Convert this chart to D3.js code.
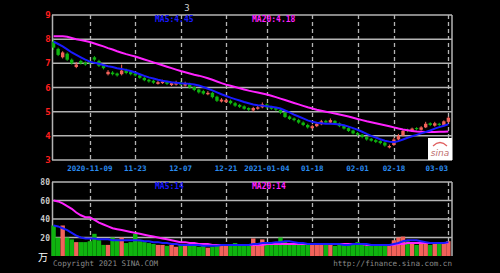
<!DOCTYPE html>
<html>
  <head>
    <meta charset="utf-8" />
    <title>K-line</title>
    <style>
      body { margin: 0; background: #000; }
      svg { display: block; }
    </style>
  </head>
  <body>
    <div id="plot"></div>
    <script src="https://d3js.org/d3.v7.min.js"></script>
    <script>
      // daily prices, 88 trading days (2020-10-28 .. 2021-03-08)
      const open = [
        7.90,7.60,7.25,7.40,7.15,6.85,7.10,7.02,
        7.05,7.25,7.10,6.92,6.55,6.62,6.58,6.55,6.72,6.65,
        6.58,6.50,6.40,6.32,6.28,6.15,6.18,6.25,6.10,6.12,
        6.22,6.08,6.15,6.02,5.92,5.85,5.72,5.78,5.62,5.42,
        5.40,5.45,5.35,5.28,5.22,5.15,5.05,5.12,5.18,
        5.30,5.20,5.15,5.08,4.95,4.80,4.72,4.65,4.55,4.45,
        4.32,4.40,4.48,4.62,4.55,4.62,4.52,4.42,4.32,4.22,
        4.12,4.05,3.95,3.88,3.82,3.78,3.72,3.52,
        3.62,3.85,4.02,4.25,4.20,4.32,4.25,4.35,4.52,4.42,4.50,4.45,4.58
      ];
      const close = [
        7.65,7.35,7.45,7.15,7.00,6.95,7.00,6.95,
        7.00,7.15,6.90,6.80,6.65,6.55,6.50,6.70,6.60,6.55,
        6.50,6.40,6.30,6.25,6.20,6.22,6.25,6.15,6.18,6.22,
        6.12,6.18,6.00,5.90,5.80,5.75,5.78,5.60,5.45,5.50,
        5.48,5.35,5.25,5.20,5.12,5.08,5.15,5.18,5.30,
        5.18,5.12,5.08,4.95,4.78,4.70,4.65,4.55,4.45,4.35,
        4.40,4.50,4.60,4.55,4.65,4.50,4.40,4.30,4.20,4.10,
        4.05,3.95,3.85,3.80,3.75,3.70,3.60,3.58,
        3.85,4.00,4.20,4.22,4.30,4.28,4.35,4.50,4.45,4.52,4.45,4.60,4.75
      ];
      const high = [
        7.98,7.65,7.50,7.45,7.20,7.05,7.15,7.08,
        7.10,7.30,7.15,6.95,6.72,6.68,6.62,6.95,6.78,6.68,
        6.62,6.55,6.45,6.36,6.32,6.28,6.32,6.28,6.22,6.28,
        6.26,6.24,6.20,6.05,5.95,5.90,5.85,5.82,5.66,5.56,
        5.55,5.50,5.40,5.32,5.26,5.18,5.20,5.25,5.38,
        5.34,5.24,5.18,5.12,4.98,4.84,4.76,4.70,4.60,4.50,
        4.46,4.56,4.66,4.66,4.72,4.65,4.55,4.46,4.36,4.26,
        4.16,4.08,3.98,3.92,3.86,3.82,3.76,3.64,
        3.92,4.08,4.26,4.30,4.34,4.36,4.40,4.58,4.56,4.58,4.54,4.64,4.80
      ];
      const low = [
        7.55,7.30,7.20,7.10,6.95,6.80,6.95,6.90,
        6.95,7.08,6.85,6.75,6.50,6.50,6.45,6.50,6.55,6.50,
        6.45,6.36,6.26,6.20,6.15,6.12,6.15,6.10,6.06,6.08,
        6.08,6.04,5.95,5.85,5.75,5.70,5.68,5.55,5.40,5.38,
        5.36,5.30,5.20,5.15,5.08,5.02,5.00,5.08,5.14,
        5.12,5.08,5.02,4.90,4.74,4.66,4.60,4.50,4.40,4.30,
        4.28,4.36,4.44,4.50,4.52,4.45,4.36,4.26,4.16,4.06,
        4.00,3.90,3.80,3.76,3.70,3.65,3.55,3.48,
        3.58,3.80,3.98,4.15,4.16,4.22,4.22,4.32,4.40,4.38,4.40,4.40,4.54
      ];
      // moving average lines
      const maBlue = [
        7.90,7.80,7.70,7.58,7.45,7.35,7.25,7.15,
        7.07,7.02,6.98,6.93,6.88,6.85,6.80,6.77,6.73,6.68,
        6.62,6.55,6.48,6.42,6.37,6.32,6.28,6.25,6.22,6.20,
        6.18,6.17,6.15,6.12,6.08,6.02,5.95,5.88,5.80,5.72,
        5.65,5.58,5.52,5.46,5.40,5.35,5.30,5.27,5.25,
        5.22,5.20,5.17,5.13,5.05,4.97,4.88,4.80,4.72,4.64,
        4.58,4.54,4.52,4.50,4.50,4.49,4.47,4.44,4.38,4.32,
        4.25,4.17,4.08,4.00,3.93,3.86,3.80,3.76,
        3.74,3.78,3.85,3.92,3.98,4.04,4.10,4.16,4.22,4.30,4.36,4.42,4.48
      ];
      const maPink = [
        8.12,8.12,8.12,8.10,8.05,8.00,7.96,7.92,
        7.88,7.82,7.76,7.70,7.63,7.57,7.50,7.44,7.38,7.33,
        7.28,7.22,7.16,7.10,7.04,6.98,6.92,6.86,6.80,6.74,
        6.68,6.63,6.58,6.53,6.49,6.44,6.38,6.32,6.25,6.18,
        6.12,6.07,6.02,5.97,5.92,5.87,5.83,5.79,5.75,
        5.71,5.66,5.60,5.54,5.48,5.42,5.36,5.30,5.24,5.18,
        5.13,5.08,5.04,5.00,4.96,4.92,4.88,4.84,4.80,4.75,
        4.70,4.65,4.60,4.56,4.52,4.48,4.44,4.40,
        4.35,4.30,4.26,4.23,4.20,4.18,4.17,4.16,4.16,4.16,4.17,4.17,4.18
      ];
      const volume = [
        33,20,33,20,18,15,15,15,
        16,24,17,12,12,20,18,20,14,15,
        24,16,15,14,13,12,12,11,12,10,
        12,13,11,11,10,12,9,10,13,12,
        12,13,14,12,13,11,19,13,18,
        14,13,14,20,15,14,12,13,12,14,
        13,14,12,13,12,11,12,13,14,12,
        15,12,11,11,12,11,13,12,
        17,20,21,16,15,12,13,14,12,13,14,15,16
      ];
      const volBlue = [
        33,32,30,28,25,22,20,19,
        19,19,18,18,18,17,17,17,17,17,
        17,17,16,16,15,15,14,14,13,13,
        12,12,12,12,12,11,11,11,11,12,
        12,12,12,12,12,12,13,13,14,
        14,14,15,15,16,16,15,14,14,13,
        13,13,13,13,13,13,13,12,12,13,
        13,13,13,12,12,12,12,12,
        13,14,16,17,17,17,16,15,14,14,14,14,15
      ];
      const volPink = [
        60,59,57,54,51,47,44,42,
        42,39,36,34,32,30,29,28,27,26,
        25,24,23,22,21,20,19,18,17,16,
        15,15,14,14,13,13,13,12,12,12,
        12,12,12,12,12,12,12,12,12,
        13,13,13,13,13,13,13,13,13,13,
        13,13,13,13,13,13,13,13,13,13,
        13,13,12,12,12,12,12,12,
        12,13,13,14,14,14,14,14,14,14,14,14,14
      ];
      const tickIdx = [8, 18, 28, 38, 47, 57, 67, 75, 84];
      const tickLabels = ["2020-11-09", "11-23", "12-07", "12-21", "2021-01-04", "01-18", "02-01", "02-18", "03-03"];
      const gridIdx = [8, 18, 28, 38, 47, 57, 67, 75, 87];
      const priceTicks = [3, 4, 5, 6, 7, 8, 9];
      const volTicks = [20, 40, 60, 80];

      const width = 500, height = 273;
      const red = "#f2625a", green = "#0fb40f", grid = "#b4b4b4";
      const font = "'DejaVu Sans Mono', monospace";

      const svg = d3.select("#plot").append("svg")
        .attr("width", width).attr("height", height)
        .style("background", "#000");

      const x = d3.scaleLinear().domain([-0.35, 87.8]).range([52, 452]);
      const y = d3.scaleLinear().domain([3, 9]).range([160, 15]);
      const yv = d3.scaleLinear().domain([0, 80]).range([256, 182]);
      const n = close.length;
      const idx = d3.range(n);

      // ---- grid, price panel
      svg.append("g").selectAll("line").data(priceTicks).join("line")
        .attr("x1", 52).attr("x2", 452)
        .attr("y1", d => y(d)).attr("y2", d => y(d))
        .attr("stroke", grid).attr("stroke-width", 1.5);
      svg.append("line").attr("x1", 52.5).attr("x2", 52.5).attr("y1", 15).attr("y2", 160)
        .attr("stroke", grid).attr("stroke-width", 1.5);
      svg.append("line").attr("x1", 452).attr("x2", 452).attr("y1", 15).attr("y2", 160)
        .attr("stroke", grid).attr("stroke-width", 1.5);
      svg.append("g").selectAll("line").data(gridIdx).join("line")
        .attr("x1", d => Math.round(x(d)) + 0.5).attr("x2", d => Math.round(x(d)) + 0.5)
        .attr("y1", 15).attr("y2", 160)
        .attr("stroke", grid).attr("stroke-width", 1.3).attr("stroke-dasharray", "4,3");

      // ---- grid, volume panel
      svg.append("g").selectAll("line").data(volTicks).join("line")
        .attr("x1", 52).attr("x2", 452)
        .attr("y1", d => yv(d)).attr("y2", d => yv(d))
        .attr("stroke", grid).attr("stroke-width", 1.5);
      svg.append("line").attr("x1", 52.5).attr("x2", 52.5).attr("y1", 182).attr("y2", 256)
        .attr("stroke", grid).attr("stroke-width", 1.5);
      svg.append("line").attr("x1", 452).attr("x2", 452).attr("y1", 182).attr("y2", 256)
        .attr("stroke", grid).attr("stroke-width", 1.5);
      svg.append("g").selectAll("line").data(gridIdx).join("line")
        .attr("x1", d => Math.round(x(d)) + 0.5).attr("x2", d => Math.round(x(d)) + 0.5)
        .attr("y1", 182).attr("y2", 256)
        .attr("stroke", grid).attr("stroke-width", 1.3).attr("stroke-dasharray", "4,3");

      // ---- volume bars
      const bw = 4.4;
      svg.append("g").selectAll("rect").data(idx).join("rect")
        .attr("x", i => x(i) - bw / 2)
        .attr("width", bw)
        .attr("y", i => yv(volume[i]))
        .attr("height", i => yv(0) - yv(volume[i]))
        .attr("fill", i => close[i] >= open[i] ? red : green);

      // ---- candles
      const candles = svg.append("g").selectAll("g").data(idx).join("g");
      candles.append("line")
        .attr("x1", i => x(i)).attr("x2", i => x(i))
        .attr("y1", i => y(high[i])).attr("y2", i => y(low[i]))
        .attr("stroke", i => close[i] >= open[i] ? red : green)
        .attr("stroke-width", 1);
      candles.append("rect")
        .attr("x", i => x(i) - 1.7)
        .attr("width", 3.4)
        .attr("y", i => y(Math.max(open[i], close[i])))
        .attr("height", i => Math.max(1, Math.abs(y(open[i]) - y(close[i]))))
        .attr("fill", i => close[i] >= open[i] ? red : green);

      // ---- moving averages
      const line = arr => d3.line().x(i => x(i)).y(i => y(arr[i]))(idx);
      const vline = arr => d3.line().x(i => x(i)).y(i => yv(arr[i]))(idx);
      svg.append("path").attr("d", line(maPink)).attr("fill", "none")
        .attr("stroke", "#ff22ff").attr("stroke-width", 2);
      svg.append("path").attr("d", line(maBlue)).attr("fill", "none")
        .attr("stroke", "#1a1aff").attr("stroke-width", 2);
      svg.append("path").attr("d", vline(volPink)).attr("fill", "none")
        .attr("stroke", "#ff22ff").attr("stroke-width", 2);
      svg.append("path").attr("d", vline(volBlue)).attr("fill", "none")
        .attr("stroke", "#1a1aff").attr("stroke-width", 2);

      // ---- axis labels
      svg.append("g").selectAll("text").data(priceTicks).join("text")
        .attr("x", 48).attr("y", d => y(d) + 3)
        .attr("text-anchor", "middle")
        .attr("fill", "#ff1e1e").attr("font-family", font)
        .attr("font-size", 9).attr("font-weight", "bold")
        .text(d => d);
      svg.append("g").selectAll("text").data(volTicks).join("text")
        .attr("x", 50).attr("y", d => yv(d) + 3)
        .attr("text-anchor", "end")
        .attr("fill", "#c8c8c8").attr("font-family", font)
        .attr("font-size", 8).attr("font-weight", "bold")
        .text(d => d);
      svg.append("text").attr("x", 43).attr("y", 261).attr("text-anchor", "middle")
        .attr("fill", "#fff").attr("font-size", 10).attr("font-family", "'Noto Sans CJK SC'")
        .text("万");
      svg.append("g").selectAll("text").data(tickIdx).join("text")
        .attr("x", (d, k) => k === tickIdx.length - 1 ? 448 : x(d))
        .attr("y", 171)
        .attr("text-anchor", (d, k) => k === tickIdx.length - 1 ? "end" : "middle")
        .attr("fill", "#2a8cf0").attr("font-family", font)
        .attr("font-size", 7.5).attr("font-weight", "bold")
        .text((d, k) => tickLabels[k]);

      // ---- legends
      const legend = (txt, lx, ly, col) => svg.append("text")
        .attr("x", lx).attr("y", ly).attr("fill", col)
        .attr("font-family", font).attr("font-size", 8).attr("font-weight", "bold")
        .text(txt);
      legend("MA5:4.45", 155, 22, "#1a1aff");
      legend("MA20:4.18", 252, 22, "#ff22ff");
      legend("MA5:14", 155, 189, "#1a1aff");
      legend("MA20:14", 252, 189, "#ff22ff");
      svg.append("text").attr("x", 187).attr("y", 11).attr("text-anchor", "middle")
        .attr("fill", "#d0d0d0").attr("font-family", font).attr("font-size", 9)
        .text("3");

      // ---- sina logo
      svg.append("rect").attr("x", 428).attr("y", 138).attr("width", 24).attr("height", 22)
        .attr("fill", "#fff");
      svg.append("text").attr("x", 440).attr("y", 156).attr("text-anchor", "middle")
        .attr("fill", "#c07070").attr("font-family", "'DejaVu Sans'").attr("font-style", "italic")
        .attr("font-size", 9).text("sina");
      svg.append("path").attr("d", "M433,146 Q440,139 447,146").attr("fill", "none")
        .attr("stroke", "#e06060").attr("stroke-width", 1.2);

      // ---- footer
      svg.append("text").attr("x", 53).attr("y", 266)
        .attr("fill", "#8a8a8a").attr("font-family", font).attr("font-size", 7.6)
        .text("Copyright 2021 SINA.COM");
      svg.append("text").attr("x", 452).attr("y", 266).attr("text-anchor", "end")
        .attr("fill", "#8a8a8a").attr("font-family", font).attr("font-size", 7.6)
        .text("http://finance.sina.com.cn");
    </script>
  </body>
</html>
